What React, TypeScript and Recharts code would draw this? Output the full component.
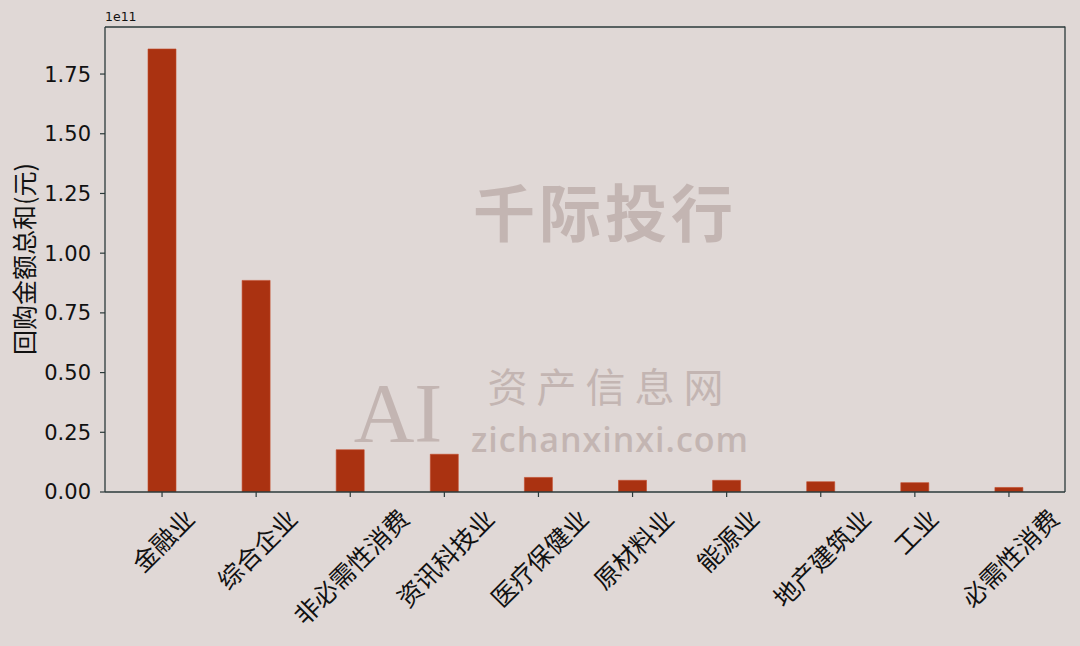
import React from 'react';
import { BarChart, Bar, XAxis, YAxis, ReferenceLine } from 'recharts';

const categories = ['金融业', '综合企业', '非必需性消费', '资讯科技业', '医疗保健业', '原材料业', '能源业', '地产建筑业', '工业', '必需性消费'];
const amounts = [1.855e11, 0.886e11, 0.177e11, 0.158e11, 0.061e11, 0.049e11, 0.049e11, 0.043e11, 0.039e11, 0.019e11];
const yTicks = [0, 0.25e11, 0.5e11, 0.75e11, 1.0e11, 1.25e11, 1.5e11, 1.75e11];
const yMax = 1.947e11;

const data = categories.map((c, i) => ({ name: c, value: amounts[i] }));

const BG = '#E0D8D6';
const AXIS = '#2B3A3A';
const BAR = '#AA3211';
const CJK = '"Noto Sans CJK SC", "DejaVu Sans", sans-serif';

const XTick = (props: any) => {
  const { x, y, payload } = props;
  const label: string = payload.value;
  const fs = 25;
  const n = label.length;
  const cy = y + 7 + ((n + 1) * fs * 0.707) / 2;
  return (
    <text
      x={x}
      y={cy}
      textAnchor="middle"
      dominantBaseline="central"
      fontSize={fs}
      fontFamily={CJK}
      fill="#111"
      transform={`rotate(-45, ${x}, ${cy})`}
    >
      {label}
    </text>
  );
};

export default function App() {
  return (
    <div style={{ position: 'fixed', left: 0, top: 0, width: 1080, height: 646, background: BG, overflow: 'hidden' }}>
      <BarChart
        width={1080}
        height={646}
        data={data}
        margin={{ top: 27, right: 15, bottom: 0, left: 10 }}
        barCategoryGap={0}
      >
        <XAxis
          dataKey="name"
          type="category"
          height={154}
          interval={0}
          tickSize={5}
          tickMargin={0}
          padding={{ left: 10, right: 9 }}
          axisLine={{ stroke: AXIS, strokeWidth: 1.3 }}
          tickLine={{ stroke: AXIS, strokeWidth: 1.2 }}
          tick={<XTick />}
        />
        <YAxis
          type="number"
          domain={[0, yMax]}
          ticks={yTicks}
          interval={0}
          width={95}
          tickSize={5}
          tickMargin={9}
          allowDataOverflow
          tickFormatter={(v: number) => (v / 1e11).toFixed(2)}
          tick={{ fontSize: 21, fill: '#111', fontFamily: '"DejaVu Sans", sans-serif' }}
          axisLine={{ stroke: AXIS, strokeWidth: 1.3 }}
          tickLine={{ stroke: AXIS, strokeWidth: 1.2 }}
          label={{
            content: () => (
              <g>
                <text
                  x={23}
                  y={259}
                  textAnchor="middle"
                  dominantBaseline="central"
                  fontSize={25}
                  fontFamily={CJK}
                  fill="#111"
                  transform="rotate(-90, 23, 259)"
                >
                  回购金额总和(元)
                </text>
                <text x={105} y={21} fontSize={12.5} fontFamily='"DejaVu Sans", sans-serif' fill="#111">
                  1e11
                </text>
              </g>
            ),
          }}
        />
        <ReferenceLine y={yMax} stroke={AXIS} strokeWidth={1.3} ifOverflow="visible" />
        <Bar dataKey="value" fill={BAR} stroke="#C24A2A" strokeWidth={0.6} barSize={28} isAnimationActive={false} />
      </BarChart>
      <svg
        width={1080}
        height={646}
        style={{ position: 'absolute', left: 0, top: 0, pointerEvents: 'none' }}
      >
        <line x1={1065} y1={26.5} x2={1065} y2={492} stroke={AXIS} strokeWidth={1.3} />
        <g opacity={0.5}>
          <text x={605} y={237} textAnchor="middle" fontSize={62} fontFamily={CJK} fontWeight={700} fill="#A89490" letterSpacing={4}>
            千际投行
          </text>
          <text x={610} y={402} textAnchor="middle" fontSize={40} fontFamily={CJK} fill="#A89490" letterSpacing={9}>
            资产信息网
          </text>
          <text x={610} y={452} textAnchor="middle" fontSize={34} fontFamily='"Open Sans", sans-serif' fontWeight={600} fill="#A89490" letterSpacing={1}>
            zichanxinxi.com
          </text>
          <text x={398} y={442} textAnchor="middle" fontSize={84} fontFamily='"Liberation Serif", serif' fill="#A89490">
            AI
          </text>
        </g>
      </svg>
    </div>
  );
}
